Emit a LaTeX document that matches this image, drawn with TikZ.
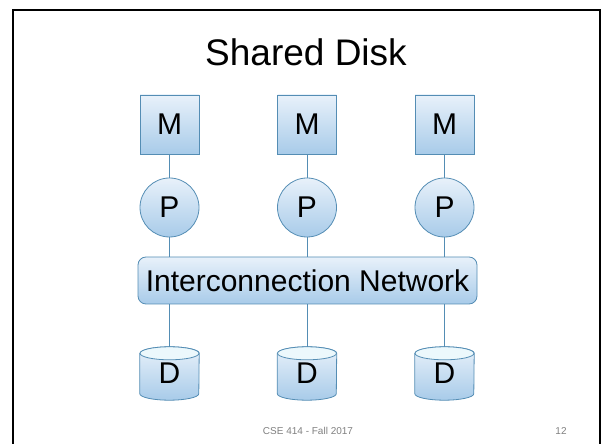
\documentclass[tikz,border=0pt]{standalone}
\usepackage{fontspec}
\setmainfont{Liberation Sans}
\pgfdeclarelayer{background}
\pgfsetlayers{background,main}
\definecolor{edge}{RGB}{84,141,180}
\definecolor{ftop}{RGB}{232,241,250}
\definecolor{fbot}{RGB}{168,203,233}
\definecolor{etop}{RGB}{236,248,252}
\definecolor{foot}{RGB}{128,128,128}
\tikzset{
  shapebox/.style={draw=edge, line width=0.8pt, top color=ftop, bottom color=fbot,
    inner sep=0pt, font=\fontsize{30}{30}\selectfont},
  mbox/.style={shapebox, rectangle, minimum width=59pt, minimum height=59pt},
  pcirc/.style={shapebox, circle, minimum size=59pt},
  netbox/.style={shapebox, rectangle, rounded corners=8pt, minimum width=339pt, minimum height=47pt},
  dcyl/.style={rectangle, inner sep=0pt, minimum width=59pt, minimum height=53pt, font=\fontsize{30}{30}\selectfont},
  link/.style={draw=edge, line width=0.8pt},
  frame/.style={line width=2pt, black},
}
\begin{document}
\begin{tikzpicture}[x=1pt,y=1pt]
\useasboundingbox (0,0) rectangle (602,444);
\draw[frame] (13,0) -- (13,433.7) -- (600,433.7) -- (600,0);
\node (title) at (306,392) {\fontsize{37}{37}\selectfont Shared Disk};

\node[mbox] (m1) at (169.5,319.5) {M};
\node[mbox] (m2) at (307,319.5) {M};
\node[mbox] (m3) at (444.5,319.5) {M};

\node[pcirc] (p1) at (169.5,236.5) {P};
\node[pcirc] (p2) at (307,236.5) {P};
\node[pcirc] (p3) at (444.5,236.5) {P};

\node[netbox] (net) at (307.5,163.5) {Interconnection Network};

\node[dcyl] (d1) at (169.5,70.5) {\raisebox{-5pt}{D}};
\node[dcyl] (d2) at (307,70.5) {\raisebox{-5pt}{D}};
\node[dcyl] (d3) at (444.5,70.5) {\raisebox{-5pt}{D}};

\begin{pgfonlayer}{background}
\foreach \d in {d1,d2,d3}{
  \shade[top color=ftop, bottom color=fbot, draw=edge, line width=0.8pt]
    ([yshift=-6.5pt]\d.north west) -- ([yshift=6.5pt]\d.south west)
    arc[start angle=180, end angle=360, x radius=29.5pt, y radius=6.5pt]
    -- ([yshift=-6.5pt]\d.north east)
    arc[start angle=0, end angle=180, x radius=29.5pt, y radius=6.5pt] -- cycle;
  \filldraw[fill=etop, draw=edge, line width=0.8pt]
    ([yshift=-6.5pt]\d.north) ellipse[x radius=29.5pt, y radius=6.5pt];
}
\end{pgfonlayer}

\foreach \i in {1,2,3}{
  \draw[link] (m\i.south) -- (p\i.north);
  \draw[link] (p\i.south) -- (p\i.south |- net.north);
  \draw[link] (d\i.north) -- (d\i.north |- net.south);
}

\node[text=foot, font=\fontsize{10}{10}\selectfont] (footer) at (308,13) {CSE 414 - Fall 2017};
\node[text=foot, font=\fontsize{10}{10}\selectfont] (page) at (561,13) {12};
\end{tikzpicture}
\end{document}
